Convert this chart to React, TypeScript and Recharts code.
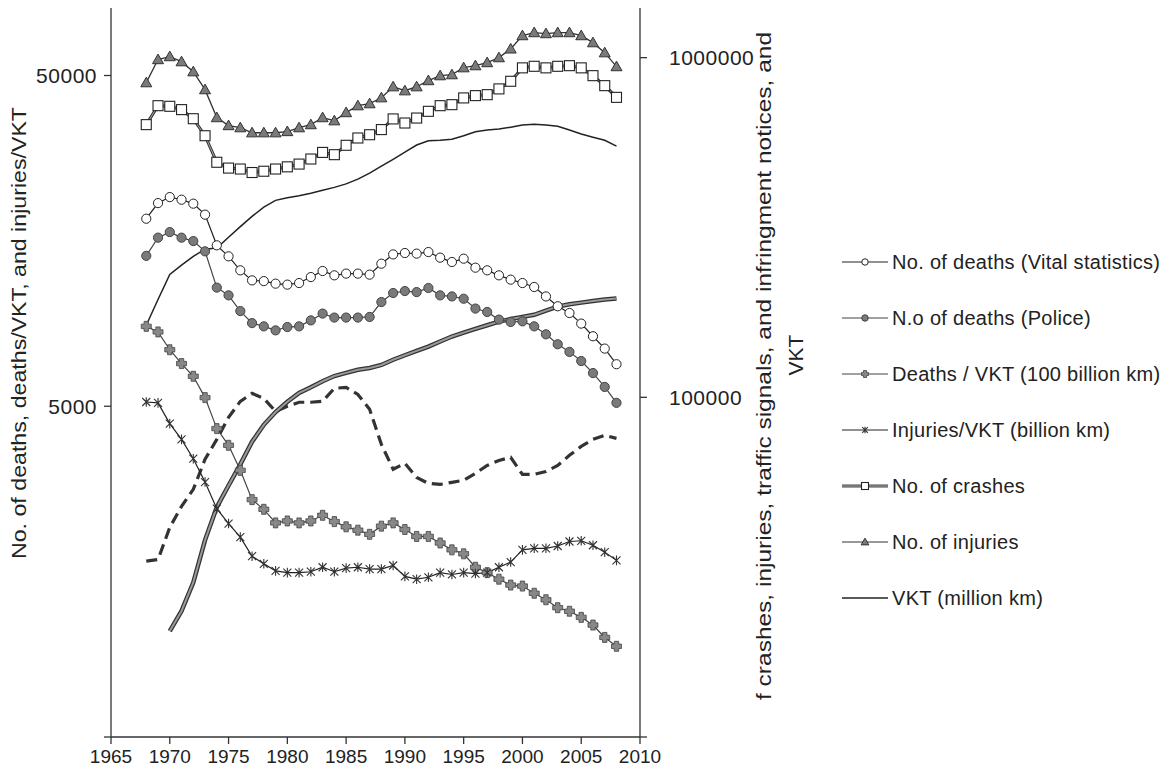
import React from "react";
import { LineChart, Line, XAxis, YAxis, Legend } from "recharts";

const years = [
  1968, 1969, 1970, 1971, 1972, 1973, 1974, 1975, 1976, 1977,
  1978, 1979, 1980, 1981, 1982, 1983, 1984, 1985, 1986, 1987,
  1988, 1989, 1990, 1991, 1992, 1993, 1994, 1995, 1996, 1997,
  1998, 1999, 2000, 2001, 2002, 2003, 2004, 2005, 2006, 2007,
  2008,
];

// left axis
const deathsVital = [
  18450, 20570, 21450, 21060, 20490, 18980, 15330, 14200, 12880, 12010,
  11950, 11740, 11660, 11790, 12290, 12820, 12440, 12590, 12590, 12500,
  13490, 14390, 14530, 14470, 14630, 14070, 13650, 13970, 13120, 12880,
  12440, 12070, 11790, 11470, 10740, 10030, 9570, 8890, 8140, 7470,
  6700,
];
const deathsPolice = [
  14250, 16170, 16810, 16170, 15790, 14700, 11420, 10820, 9700, 8920,
  8720, 8480, 8680, 8720, 9090, 9530, 9270, 9270, 9270, 9310,
  10330, 11000, 11150, 11070, 11390, 10820, 10740, 10570, 9870, 9640,
  9140, 8990, 9030, 8720, 8250, 7700, 7300, 6850, 6300, 5720,
  5120,
];
const deathsPerVkt = [
  8720, 8390, 7410, 6730, 6160, 5310, 4280, 3810, 3200, 2610,
  2440, 2220, 2250, 2220, 2250, 2340, 2240, 2160, 2110, 2050,
  2170, 2220, 2120, 2020, 2020, 1930, 1840, 1790, 1630, 1570,
  1500, 1440, 1430, 1360, 1300, 1230, 1200, 1150, 1090, 1000,
  940,
];
const injuriesPerVkt = [
  5150, 5120, 4430, 3970, 3470, 2950, 2450, 2210, 2010, 1760,
  1670, 1590, 1570, 1570, 1580, 1630, 1580, 1620, 1630, 1610,
  1610, 1650, 1530, 1500, 1520, 1570, 1550, 1570, 1560, 1570,
  1630, 1690, 1840, 1860, 1860, 1890, 1950, 1960, 1900, 1810,
  1710,
];

// right axis
const crashes = [
  635000, 722000, 719000, 703000, 661000, 589000, 492000, 473000, 470000, 459000,
  463000, 470000, 477000, 486000, 503000, 526000, 518000, 552000, 580000, 593000,
  614000, 660000, 642000, 664000, 695000, 722000, 727000, 761000, 773000, 778000,
  809000, 852000, 933000, 943000, 933000, 943000, 947000, 933000, 885000, 827000,
  764000,
];
const injuries = [
  844000, 987000, 1007000, 973000, 909000, 805000, 666000, 631000, 622000, 601000,
  601000, 601000, 606000, 622000, 635000, 666000, 652000, 689000, 722000, 732000,
  762000, 821000, 799000, 821000, 856000, 885000, 891000, 934000, 947000, 967000,
  1000000, 1061000, 1161000, 1185000, 1177000, 1185000, 1185000, 1161000, 1107000, 1034000,
  941000,
];
const vkt = [
  163000, 194000, 230000, 245000, 260000, 273000, 275000, 296000, 318000, 341000,
  363000, 380000, 387000, 392000, 399000, 407000, 415000, 425000, 439000, 457000,
  479000, 502000, 527000, 553000, 569000, 571000, 575000, 589000, 605000, 612000,
  616000, 624000, 633000, 637000, 633000, 628000, 612000, 596000, 583000, 571000,
  549000,
];
const trafficSignals = [
  null, null, 20500, 23500, 28500, 38000, 47500, 55000, 63500, 74000,
  83000, 90500, 97000, 103000, 107000, 111500, 115500, 118000, 120500, 122000,
  124500, 129000, 133000, 137000, 141000, 146000, 151000, 155000, 159000, 163000,
  167000, 170000, 172500, 175000, 180000, 185000, 188000, 190000, 192000, 194000,
  195500,
];
const infringements = [
  32950, 33300, 41400, 47750, 53600, 65700, 75200, 87300, 97300, 102700,
  99300, 90900, 94100, 96700, 96700, 97300, 106300, 107000, 102000, 92200,
  72700, 61400, 63900, 58100, 55800, 55400, 56200, 57000, 59700, 63000,
  65200, 66600, 59300, 59300, 60500, 63000, 67500, 71700, 75200, 77300,
  75700,
];

const xTicks = [1965, 1970, 1975, 1980, 1985, 1990, 1995, 2000, 2005, 2010];
const leftTicks = [500, 5000, 50000];
const rightTicks = [10000, 100000, 1000000];

const rows = years.map((year, i) => ({
  year,
  deathsVital: deathsVital[i],
  deathsPolice: deathsPolice[i],
  deathsPerVkt: deathsPerVkt[i],
  injuriesPerVkt: injuriesPerVkt[i],
  crashes: crashes[i],
  injuries: injuries[i],
  vkt: vkt[i],
  trafficSignals: trafficSignals[i],
  infringements: infringements[i],
}));

const font = "'Liberation Sans', Arial, sans-serif";
const ink = "#222";

type Kind = "open" | "filled" | "plus" | "star" | "square" | "triangle" | "none";

const Marker = ({ kind, cx, cy, s = 1 }: { kind: Kind; cx: number; cy: number; s?: number }) => {
  if (cx == null || cy == null || kind === "none") return null;
  if (kind === "open") return <circle cx={cx} cy={cy} r={4.6 * s} fill="#fff" stroke={ink} strokeWidth={1} />;
  if (kind === "filled") return <circle cx={cx} cy={cy} r={4.6 * s} fill="#7a7a7a" stroke="#444" strokeWidth={1} />;
  if (kind === "square")
    return <rect x={cx - 5 * s} y={cy - 5 * s} width={10 * s} height={10 * s} fill="#fff" stroke={ink} strokeWidth={1.1} />;
  if (kind === "triangle") {
    const a = 5.5 * s;
    return (
      <polygon
        points={`${cx},${cy - a} ${cx + a},${cy + a * 0.75} ${cx - a},${cy + a * 0.75}`}
        fill="#7a7a7a"
        stroke="#333"
        strokeWidth={1}
      />
    );
  }
  if (kind === "plus") {
    const a = 5 * s;
    const t = 2.2 * s;
    return (
      <path
        d={`M${cx - t},${cy - a}H${cx + t}V${cy - t}H${cx + a}V${cy + t}H${cx + t}V${cy + a}H${cx - t}V${cy + t}H${cx - a}V${cy - t}H${cx - t}Z`}
        fill="#888"
        stroke="#444"
        strokeWidth={0.8}
      />
    );
  }
  const d = 4 * s;
  return (
    <path
      d={`M${cx - d},${cy - d}L${cx + d},${cy + d}M${cx - d},${cy + d}L${cx + d},${cy - d}M${cx},${cy - d * 1.2}L${cx},${cy + d * 1.2}`}
      stroke="#333"
      strokeWidth={1.1}
      fill="none"
    />
  );
};

const dotOf = (kind: Kind) => (p: any) => (
  <g key={`${p.dataKey}-${p.index}`}>
    <Marker kind={kind} cx={p.cx} cy={p.cy} />
  </g>
);

const legendItems: { label: string; kind: Kind; width: number; color: string; inner?: string }[] = [
  { label: "No. of deaths (Vital statistics)", kind: "open", width: 1.2, color: ink },
  { label: "N.o of deaths (Police)", kind: "filled", width: 1.2, color: "#444" },
  { label: "Deaths / VKT (100 billion km)", kind: "plus", width: 1.2, color: "#444" },
  { label: "Injuries/VKT (billion km)", kind: "star", width: 1.2, color: ink },
  { label: "No. of crashes", kind: "square", width: 3, color: "#444", inner: "#aaa" },
  { label: "No. of injuries", kind: "triangle", width: 1.2, color: "#333" },
  { label: "VKT (million km)", kind: "none", width: 1.4, color: ink },
];

const LegendBox = () => (
  <div style={{ fontFamily: font, fontSize: 20, color: ink, letterSpacing: 0.3 }}>
    {legendItems.map((item) => (
      <div key={item.label} style={{ display: "flex", alignItems: "center", height: 56 }}>
        <svg width={48} height={20} style={{ marginRight: 2, flexShrink: 0 }}>
          <line x1={0} x2={46} y1={10} y2={10} stroke={item.color} strokeWidth={item.width} />
          {item.inner && <line x1={0} x2={46} y1={10} y2={10} stroke={item.inner} strokeWidth={1} />}
          <Marker kind={item.kind} cx={23} cy={10} s={0.7} />
        </svg>
        <span style={{ whiteSpace: "nowrap" }}>{item.label}</span>
      </div>
    ))}
  </div>
);

const LeftTitle = () => (
  <text
    x={18}
    y={333}
    transform="rotate(-90 18 333)"
    textAnchor="middle"
    dominantBaseline="central"
    fontFamily={font}
    fontSize={21}
    textLength={452}
    lengthAdjust="spacingAndGlyphs"
    fill={ink}
  >
    No. of deaths, deaths/VKT, and injuries/VKT
  </text>
);

const RightTitle = () => (
  <g fontFamily={font} fontSize={21} fill={ink}>
    <text
      x={763}
      y={366}
      transform="rotate(-90 763 366)"
      textAnchor="middle"
      dominantBaseline="central"
      textLength={668}
      lengthAdjust="spacingAndGlyphs"
    >
      f crashes, injuries, traffic signals, and infringment notices, and
    </text>
    <text x={795} y={355} transform="rotate(-90 795 355)" textAnchor="middle" dominantBaseline="central">
      VKT
    </text>
  </g>
);

const axisLine = { stroke: "#333", strokeWidth: 1.3 };
const yTick = { fontSize: 21, fill: ink, fontFamily: font, letterSpacing: 0.5 };

const App = () => (
  <div style={{ width: 1168, height: 769 }}>
    <style>{"html,body{margin:0;padding:0;overflow:hidden;background:#fff}"}</style>
    <LineChart
      width={1168}
      height={769}
      data={rows}
      margin={{ top: 8, right: 8, bottom: 0, left: 8 }}
      style={{ fontFamily: font }}
    >
      <XAxis
        dataKey="year"
        type="number"
        domain={[1965, 2010]}
        ticks={xTicks}
        interval={0}
        allowDataOverflow
        height={32}
        tickSize={7}
        tickMargin={6}
        axisLine={axisLine}
        tickLine={axisLine}
        tick={{ fontSize: 19, fill: ink, fontFamily: font }}
      />
      <YAxis
        yAxisId="left"
        orientation="left"
        scale="log"
        type="number"
        domain={[500, 80000]}
        ticks={leftTicks}
        interval={0}
        allowDataOverflow
        width={103}
        tickSize={7}
        tickMargin={7}
        axisLine={axisLine}
        tickLine={axisLine}
        tick={yTick}
        tickFormatter={(v: number) => (v === 500 ? "" : String(v))}
        label={() => <LeftTitle />}
      />
      <YAxis
        yAxisId="right"
        orientation="right"
        scale="log"
        type="number"
        domain={[10000, 1400000]}
        ticks={rightTicks}
        interval={0}
        allowDataOverflow
        width={520}
        tickSize={7}
        tickMargin={22}
        axisLine={axisLine}
        tickLine={axisLine}
        tick={yTick}
        tickFormatter={(v: number) => (v === 10000 ? "" : String(v))}
        label={() => <RightTitle />}
      />
      <Legend
        layout="vertical"
        align="center"
        verticalAlign="middle"
        content={() => <LegendBox />}
        wrapperStyle={{ left: 842, top: 234, width: 320 }}
      />

      <Line
        yAxisId="right"
        dataKey="infringements"
        stroke="#333"
        strokeWidth={3.2}
        strokeDasharray="11 6"
        dot={false}
        isAnimationActive={false}
        legendType="none"
      />
      <Line
        yAxisId="right"
        dataKey="trafficSignals"
        stroke="#333"
        strokeWidth={4.5}
        dot={false}
        isAnimationActive={false}
        legendType="none"
      />
      <Line
        yAxisId="right"
        dataKey="trafficSignals"
        stroke="#9a9a9a"
        strokeWidth={2}
        dot={false}
        isAnimationActive={false}
        legendType="none"
      />
      <Line yAxisId="right" dataKey="vkt" stroke={ink} strokeWidth={1.5} dot={false} isAnimationActive={false} />
      <Line
        yAxisId="right"
        dataKey="crashes"
        stroke="#333"
        strokeWidth={3}
        dot={false}
        isAnimationActive={false}
        legendType="none"
      />
      <Line
        yAxisId="right"
        dataKey="crashes"
        stroke="#aaa"
        strokeWidth={1}
        dot={dotOf("square")}
        isAnimationActive={false}
      />
      <Line
        yAxisId="right"
        dataKey="injuries"
        stroke="#333"
        strokeWidth={1.3}
        dot={dotOf("triangle")}
        isAnimationActive={false}
      />
      <Line
        yAxisId="left"
        dataKey="deathsVital"
        stroke={ink}
        strokeWidth={1.2}
        dot={dotOf("open")}
        isAnimationActive={false}
      />
      <Line
        yAxisId="left"
        dataKey="deathsPolice"
        stroke="#444"
        strokeWidth={1.2}
        dot={dotOf("filled")}
        isAnimationActive={false}
      />
      <Line
        yAxisId="left"
        dataKey="deathsPerVkt"
        stroke="#444"
        strokeWidth={1.2}
        dot={dotOf("plus")}
        isAnimationActive={false}
      />
      <Line
        yAxisId="left"
        dataKey="injuriesPerVkt"
        stroke={ink}
        strokeWidth={1.2}
        dot={dotOf("star")}
        isAnimationActive={false}
      />
    </LineChart>
  </div>
);

export default App;
